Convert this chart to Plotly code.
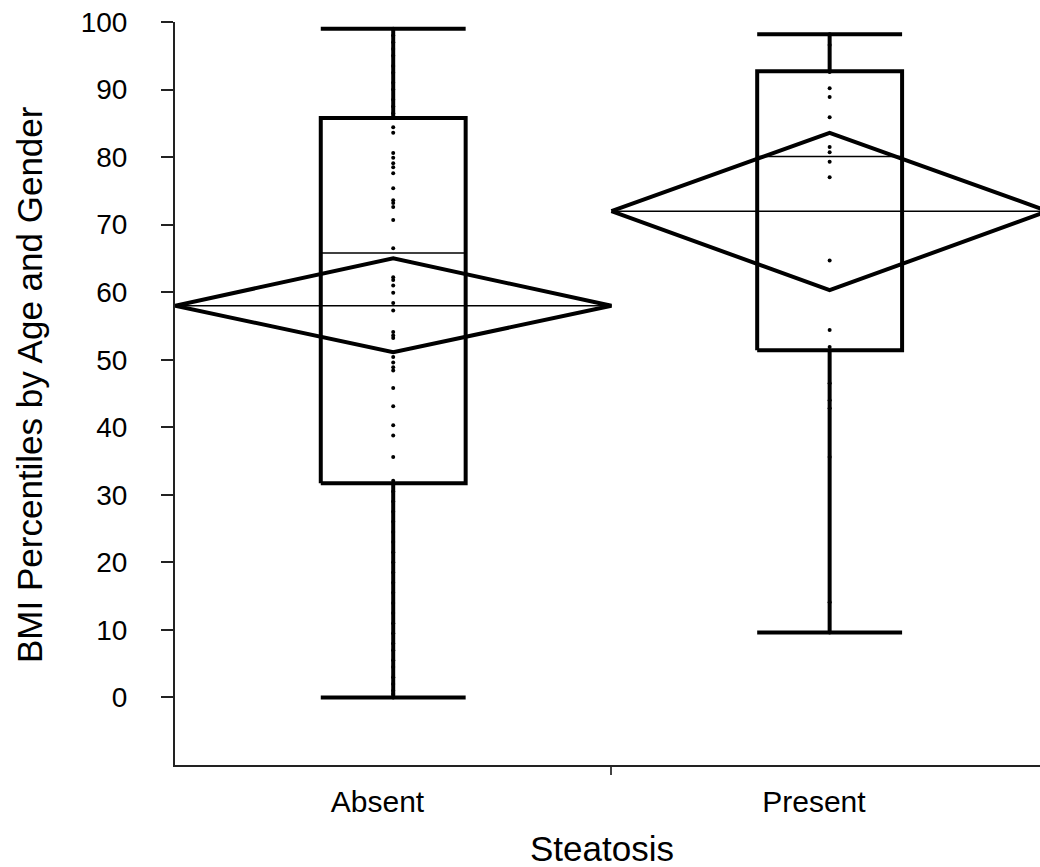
import plotly.graph_objects as go

# ---- data ----
categories = ["Absent", "Present"]
cat_pos = [0.5, 1.5]

box_q1 = [31.7, 51.4]
box_median = [65.8, 80.1]
box_q3 = [85.8, 92.7]
whisker_lo = [0.0, 9.6]
whisker_hi = [99.0, 98.2]

group_mean = [58.0, 72.0]
ci_lower = [51.1, 60.3]
ci_upper = [65.0, 83.6]

absent_values = [
    0.0, 0.5, 1.0, 2.0, 3.0, 4.5, 5.5, 7.0, 8.0, 9.5, 11.0, 12.5, 14.0, 15.5,
    17.0, 18.5, 20.0, 21.5, 23.0, 24.5, 26.0, 27.5, 29.0, 30.5, 31.7,
    32.1, 35.6, 38.8, 40.3, 43.1, 45.8, 48.4, 48.9, 49.6, 50.4, 53.2, 53.6,
    54.1, 57.3, 58.4, 59.9, 61.0, 61.8, 62.2, 66.5, 70.7, 72.6, 73.2, 73.6,
    75.4, 77.6, 78.5, 79.1, 79.9, 80.6, 83.6, 84.4,
    86.5, 87.5, 88.5, 90.0, 91.0, 92.5, 93.5, 95.0, 96.0, 97.0, 98.0, 99.0,
]
present_values = [
    9.6, 14.1, 35.6, 42.8, 44.0, 46.5, 51.9, 54.4, 64.7, 77.0, 79.3, 80.7,
    81.5, 85.9, 88.9, 90.2, 92.6, 96.6, 98.2,
]
group_values = [absent_values, present_values]

y_ticks = [0, 10, 20, 30, 40, 50, 60, 70, 80, 90, 100]
x_title = "Steatosis"
y_title = "BMI Percentiles by Age and Gender"

# ---- styles ----
BOX_HALF = 0.166
LABEL_SHIFT = -0.036
LW_THICK = 4
LW_THIN = 1.5
FONT = "Liberation Sans, Arial, sans-serif"

fig = go.Figure()

for i, c in enumerate(categories):
    x0 = cat_pos[i]
    xl, xr = x0 - BOX_HALF, x0 + BOX_HALF
    # data points
    fig.add_trace(go.Scatter(
        x=[x0] * len(group_values[i]), y=group_values[i], mode="markers",
        marker=dict(color="black", size=4), hoverinfo="y", showlegend=False))
    # box rectangle
    fig.add_trace(go.Scatter(
        x=[xl, xr, xr, xl, xl],
        y=[box_q1[i], box_q1[i], box_q3[i], box_q3[i], box_q1[i]],
        mode="lines", line=dict(color="black", width=LW_THICK),
        hoverinfo="skip", showlegend=False))
    # median
    fig.add_trace(go.Scatter(
        x=[xl, xr], y=[box_median[i], box_median[i]], mode="lines",
        line=dict(color="black", width=LW_THIN), hoverinfo="skip", showlegend=False))
    # whiskers + caps
    fig.add_trace(go.Scatter(
        x=[x0, x0, None, x0, x0, None, xl, xr, None, xl, xr],
        y=[box_q3[i], whisker_hi[i], None, box_q1[i], whisker_lo[i], None,
           whisker_hi[i], whisker_hi[i], None, whisker_lo[i], whisker_lo[i]],
        mode="lines", line=dict(color="black", width=LW_THICK),
        hoverinfo="skip", showlegend=False))
    # mean line
    fig.add_trace(go.Scatter(
        x=[x0 - 0.5, x0 + 0.5], y=[group_mean[i], group_mean[i]], mode="lines",
        line=dict(color="black", width=LW_THIN), hoverinfo="skip", showlegend=False))
    # means diamond
    fig.add_trace(go.Scatter(
        x=[x0 - 0.5, x0, x0 + 0.5, x0, x0 - 0.5],
        y=[group_mean[i], ci_upper[i], group_mean[i], ci_lower[i], group_mean[i]],
        mode="lines", line=dict(color="black", width=LW_THICK),
        hoverinfo="skip", showlegend=False))

fig.update_layout(
    width=1040, height=867,
    margin=dict(l=175, r=0, t=22, b=102, autoexpand=False),
    paper_bgcolor="white", plot_bgcolor="white",
    font=dict(family=FONT, color="black"),
    showlegend=False,
    xaxis=dict(
        range=[0, 1.982], tickmode="array",
        tickvals=[p + LABEL_SHIFT for p in cat_pos], ticktext=categories,
        ticks="", showgrid=False, zeroline=False, showline=True, automargin=False,
        linecolor="#222", linewidth=2, tickfont=dict(size=30),
        ticklabelstandoff=9,
        minor=dict(tickmode="array", tickvals=[1.0], ticks="outside",
                   ticklen=8, tickwidth=2, tickcolor="#444", showgrid=False),
    ),
    yaxis=dict(
        range=[-10, 100], tickmode="array", tickvals=y_ticks,
        ticks="outside", ticklen=12, tickwidth=2, tickcolor="#222", automargin=False,
        showgrid=False, zeroline=False, showline=True, linecolor="#222", linewidth=2,
        tickfont=dict(size=28), ticklabelstandoff=28,
    ),
    annotations=[
        dict(text=x_title, xref="paper", yref="paper", x=(602 - 175) / 865,
             y=-(848 - 765) / 743, xanchor="center", yanchor="middle",
             showarrow=False, font=dict(size=35)),
        dict(text=y_title, xref="paper", yref="paper", x=(29 - 175) / 865,
             y=(765 - 385) / 743, xanchor="center", yanchor="middle",
             textangle=-90, showarrow=False, font=dict(size=35)),
    ],
)

fig.write_html(
    "out.html",
    config={"displayModeBar": False},
    post_script="document.body.style.margin='0px';document.body.style.overflow='hidden';",
)
